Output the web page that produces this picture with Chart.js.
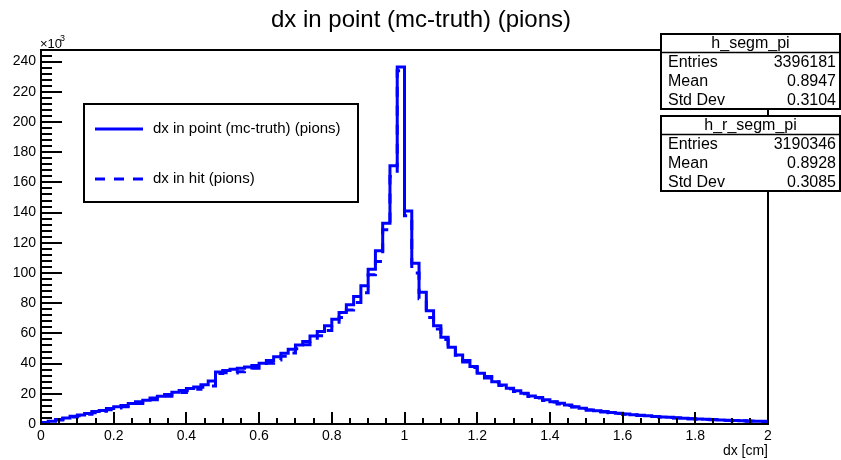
<!DOCTYPE html>
<html>
<head>
<meta charset="UTF-8">
<title>dx in point (mc-truth) (pions)</title>
<script src="https://cdn.jsdelivr.net/npm/chart.js"></script>
<style>
  html, body { margin: 0; padding: 0; background: #fff; }
  #wrap { width: 841px; height: 460px; }
</style>
</head>
<body>
<div id="wrap"><canvas id="c" width="841" height="460"></canvas></div>
<script>
// histogram binning (100 bins from 0 to 2 cm)
const binLow = 0;
const binWidth = 0.02;
const nBins = 100;

// bin contents, in units of 10^3 entries
const pointCounts = [
  1.0, 1.8, 3.0, 4.0, 5.2, 6.0, 7.0, 8.2, 9.0, 10.3, 11.5, 12.3, 13.5, 14.8, 15.8, 17.2, 18.3, 19.5, 21.0, 22.2, 23.5, 24.5, 26.0, 28.5, 34.5,
  35.5, 36.2, 37.0, 37.8, 38.8, 40.2, 42.0, 44.5, 46.9, 49.5, 52.4, 54.6, 58.3, 61.2, 65.0, 69.4, 73.8, 79.0, 84.4, 91.5, 102.5, 114.7, 133.0, 171.0, 236.5,
  141.0, 106.5, 87.3, 75.0, 65.0, 57.5, 50.8, 45.7, 42.0, 38.0, 33.6, 31.4, 28.0, 25.9, 23.7, 22.0, 20.3, 18.6, 17.5, 16.0, 14.8, 13.7, 12.6, 11.5, 10.4,
  9.3, 8.8, 8.2, 7.6, 7.1, 6.6, 6.2, 5.8, 5.4, 5.0, 4.7, 4.4, 4.1, 3.8, 3.5, 3.3, 3.1, 2.9, 2.7, 2.5, 2.3, 2.2, 2.0, 1.9, 1.8
];
const hitCounts = [
  0.8, 1.5, 2.6, 3.6, 4.6, 5.5, 6.5, 7.5, 8.4, 9.5, 10.6, 11.5, 12.6, 13.6, 14.8, 16.0, 17.0, 18.3, 19.6, 20.8, 22.0, 23.0, 24.3, 25.2, 33.5,
  34.0, 33.8, 34.6, 35.8, 37.0, 38.5, 40.3, 42.4, 44.8, 47.0, 49.8, 52.5, 55.6, 58.5, 62.0, 66.0, 70.5, 75.5, 80.5, 87.0, 98.8, 107.6, 128.6, 164.0, 234.0,
  138.0, 100.0, 83.0, 70.5, 63.0, 56.0, 50.0, 45.5, 41.0, 37.5, 33.0, 30.5, 27.8, 25.5, 23.3, 21.5, 20.0, 18.2, 17.2, 15.6, 14.5, 13.3, 12.3, 11.3, 10.2,
  9.2, 8.6, 8.0, 7.5, 7.0, 6.5, 6.0, 5.6, 5.3, 4.9, 4.6, 4.3, 4.0, 3.7, 3.4, 3.2, 3.0, 2.8, 2.6, 2.4, 2.2, 2.1, 1.9, 1.8, 1.7
];

const xTickValues = [0, 0.2, 0.4, 0.6, 0.8, 1, 1.2, 1.4, 1.6, 1.8, 2];
const yTickValues = [0, 20, 40, 60, 80, 100, 120, 140, 160, 180, 200, 220, 240];

const seriesNames = ['dx in point (mc-truth) (pions)', 'dx in hit (pions)'];
const statsBoxes = [
  { name: 'h_segm_pi', rows: [['Entries', '3396181'], ['Mean', '0.8947'], ['Std Dev', '0.3104']] },
  { name: 'h_r_segm_pi', rows: [['Entries', '3190346'], ['Mean', '0.8928'], ['Std Dev', '0.3085']] }
];

const FONT = "'Liberation Sans', Arial, Helvetica, sans-serif";
const BLUE = 'rgb(0,0,255)';

// outline of a histogram: one point per bin low edge, closed at the last edge
function histPoints(counts) {
  const pts = [{ x: binLow, y: 0 }];
  for (let i = 0; i < nBins; i++) {
    pts.push({ x: binLow + i * binWidth, y: counts[i] });
  }
  pts.push({ x: binLow + nBins * binWidth, y: counts[nBins - 1] });
  pts.push({ x: binLow + nBins * binWidth, y: 0 });
  return pts;
}

const decor = {
  id: 'decor',
  afterDraw(chart) {
    const ctx = chart.ctx;
    const a = chart.chartArea;
    const xs = chart.scales.x, ys = chart.scales.y;
    ctx.save();
    ctx.strokeStyle = '#000';
    ctx.fillStyle = '#000';

    // frame
    ctx.lineWidth = 2;
    ctx.strokeRect(a.left, a.top, a.right - a.left, a.bottom - a.top);

    // y ticks (major 20, minor 4)
    ctx.beginPath();
    for (let v = 0; v <= 247; v += 4) {
      const py = Math.round(ys.getPixelForValue(v));
      const len = (v % 20 === 0) ? 21 : 11;
      ctx.moveTo(a.left, py);
      ctx.lineTo(a.left + len, py);
    }
    // x ticks (major 0.2, minor 0.05)
    for (let k = 0; k <= 40; k++) {
      const px = Math.round(xs.getPixelForValue(k * 0.05));
      const len = (k % 4 === 0) ? 12 : 6;
      ctx.moveTo(px, a.bottom);
      ctx.lineTo(px, a.bottom - len);
    }
    ctx.stroke();

    // x10^3 multiplier
    ctx.font = '13px ' + FONT;
    ctx.textAlign = 'left';
    ctx.textBaseline = 'alphabetic';
    ctx.fillText('\u00d710', 40, 48);
    ctx.font = '9px ' + FONT;
    ctx.fillText('3', 60, 41);

    // axis title
    ctx.font = '14px ' + FONT;
    ctx.textAlign = 'right';
    ctx.fillText('dx [cm]', a.right, 455);

    // title
    ctx.font = '24px ' + FONT;
    ctx.textAlign = 'center';
    ctx.fillText('dx in point (mc-truth) (pions)', 421, 27);

    // legend
    ctx.fillStyle = '#fff';
    ctx.fillRect(84, 104, 274, 98);
    ctx.lineWidth = 2;
    ctx.strokeRect(84, 104, 274, 98);
    ctx.lineWidth = 3;
    ctx.strokeStyle = BLUE;
    ctx.beginPath();
    ctx.moveTo(95, 129); ctx.lineTo(143, 129);
    ctx.stroke();
    ctx.setLineDash([10, 9]);
    ctx.beginPath();
    ctx.moveTo(95, 179); ctx.lineTo(143, 179);
    ctx.stroke();
    ctx.setLineDash([]);
    ctx.fillStyle = '#000';
    ctx.font = '15px ' + FONT;
    ctx.textAlign = 'left';
    ctx.textBaseline = 'middle';
    ctx.fillText(seriesNames[0], 153, 129);
    ctx.fillText(seriesNames[1], 153, 179);

    // stats boxes
    const boxTops = [34, 116];
    statsBoxes.forEach((b, i) => {
      const x0 = 661, x1 = 840, y0 = boxTops[i], h = 75;
      ctx.fillStyle = '#fff';
      ctx.fillRect(x0, y0, x1 - x0, h);
      ctx.strokeStyle = '#000';
      ctx.lineWidth = 2;
      ctx.strokeRect(x0, y0, x1 - x0, h);
      ctx.lineWidth = 1.5;
      ctx.beginPath();
      ctx.moveTo(x0, y0 + 18.5); ctx.lineTo(x1, y0 + 18.5);
      ctx.stroke();
      ctx.fillStyle = '#000';
      ctx.font = '16px ' + FONT;
      ctx.textBaseline = 'middle';
      ctx.textAlign = 'center';
      ctx.fillText(b.name, (x0 + x1) / 2, y0 + 9.5);
      b.rows.forEach((r, j) => {
        const ry = y0 + 28.5 + j * 18.8;
        ctx.textAlign = 'left';
        ctx.fillText(r[0], x0 + 7, ry);
        ctx.textAlign = 'right';
        ctx.fillText(r[1], x1 - 4, ry);
      });
    });
    ctx.restore();
  }
};

new Chart(document.getElementById('c'), {
  type: 'line',
  data: {
    datasets: [
      {
        label: seriesNames[0],
        data: histPoints(pointCounts),
        stepped: 'before',
        borderColor: BLUE,
        borderWidth: 3,
        pointRadius: 0,
        fill: false
      },
      {
        label: seriesNames[1],
        data: histPoints(hitCounts),
        stepped: 'before',
        borderColor: BLUE,
        borderWidth: 3,
        borderDash: [10, 9],
        pointRadius: 0,
        fill: false
      }
    ]
  },
  options: {
    responsive: false,
    animation: false,
    parsing: false,
    layout: { padding: { top: 50, right: 73, bottom: 0, left: 0 } },
    plugins: { legend: { display: false }, title: { display: false }, tooltip: { enabled: false } },
    scales: {
      x: {
        type: 'linear',
        min: 0, max: 2,
        grid: { display: false, drawTicks: false },
        border: { display: false },
        afterFit: s => { s.height = 36; },
        afterBuildTicks: s => { s.ticks = xTickValues.map(v => ({ value: v })); },
        ticks: {
          autoSkip: false, maxRotation: 0, padding: 4,
          color: '#000', font: { family: FONT, size: 14 },
          callback: v => String(Math.round(v * 10) / 10)
        }
      },
      y: {
        type: 'linear',
        min: 0, max: 247.7,
        grid: { display: false, drawTicks: false },
        border: { display: false },
        afterFit: s => { s.width = 41; },
        afterBuildTicks: s => { s.ticks = yTickValues.map(v => ({ value: v })); },
        ticks: {
          autoSkip: false, padding: 5,
          color: '#000', font: { family: FONT, size: 14 }
        }
      }
    }
  },
  plugins: [decor]
});
</script>
</body>
</html>
